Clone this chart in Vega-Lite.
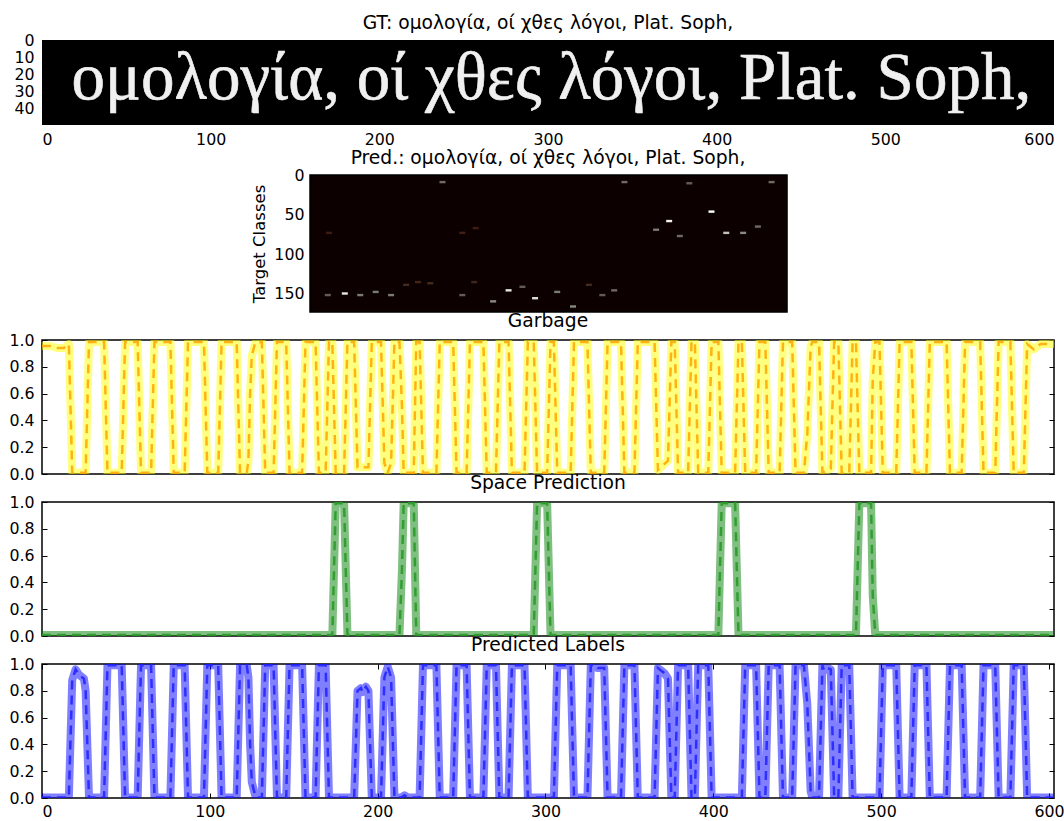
{
"$schema": "https://vega.github.io/schema/vega-lite/v6.json",
"padding": {"left": 8, "top": 14, "right": 8, "bottom": 0},
"bounds": "flush",
"spacing": 28,
"config": {
 "font": "DejaVu Sans",
 "view": {"stroke": "black", "strokeWidth": 1.5},
 "axis": {"labelFont": "DejaVu Sans", "labelFontSize": 15.8, "labelColor": "black", "domain": false, "grid": false, "tickColor": "black", "tickSize": -5, "tickWidth": 1, "labelPadding": 13, "labelOverlap": false, "titleFont": "DejaVu Sans", "titleFontWeight": "normal", "titleFontSize": 16.5, "titleColor": "black"},
 "title": {"font": "DejaVu Sans", "fontSize": 18.7, "fontWeight": "normal", "color": "black", "offset": 1, "frame": "group"}
},
"datasets": {
 "img": [{"t": 302, "r": 34, "s": "ομολογία, οί χθες λόγοι, Plat. Soph,"}],
 "imgext": [{"t0": 0, "t1": 600, "r0": -0.5, "r1": 49.5}],
 "ext": [{"t0": -0.5, "t1": 602.5, "c0": -0.5, "c1": 173.5}],
 "spots": [
  {"t":22,"c":152,"v":0.35},{"t":43.5,"c":150,"v":0.9},{"t":63,"c":152,"v":0.45},{"t":82.5,"c":148,"v":0.45},{"t":102,"c":152,"v":0.45},
  {"t":121,"c":139,"v":0.15},{"t":136,"c":135.5,"v":0.12},{"t":151.5,"c":137,"v":0.15},{"t":167,"c":8.5,"v":0.4},
  {"t":192,"c":152,"v":0.35},{"t":207,"c":135.5,"v":0.12},{"t":231,"c":160,"v":0.5},{"t":250.5,"c":146,"v":0.9},
  {"t":268,"c":141.5,"v":0.35},{"t":284,"c":156,"v":0.85},{"t":312,"c":148,"v":0.45},{"t":332,"c":166.5,"v":0.5},
  {"t":352,"c":139,"v":0.15},{"t":369,"c":152,"v":0.35},{"t":384,"c":146,"v":0.4},{"t":397,"c":8.5,"v":0.4},
  {"t":437,"c":69,"v":0.45},{"t":453.5,"c":58,"v":0.95},{"t":467,"c":77,"v":0.4},{"t":479,"c":10,"v":0.35},
  {"t":507,"c":46,"v":1.0},{"t":525.7,"c":73,"v":0.75},{"t":547,"c":73,"v":0.5},{"t":565.7,"c":65,"v":0.4},{"t":583,"c":8.5,"v":0.4},
  {"t":23.5,"c":73,"v":0.08},{"t":192,"c":73,"v":0.1},{"t":209,"c":67,"v":0.08}
 ],
 "labels": [
  {"t":0,"v":0.003},{"t":16,"v":0.003},{"t":18,"v":0.88},{"t":20,"v":0.96},{"t":22,"v":0.92},{"t":25,"v":0.89},{"t":26,"v":0.8},{"t":28,"v":0.003},
  {"t":37,"v":0.003},{"t":39,"v":0.99},{"t":47.5,"v":0.99},{"t":49.5,"v":0.003},
  {"t":57,"v":0.003},{"t":59,"v":0.99},{"t":65,"v":0.99},{"t":67,"v":0.003},
  {"t":76.5,"v":0.003},{"t":78.5,"v":0.99},{"t":85,"v":0.99},{"t":87,"v":0.003},
  {"t":96.5,"v":0.003},{"t":98.5,"v":0.99},{"t":105,"v":0.99},{"t":107,"v":0.003},
  {"t":116,"v":0.003},{"t":118,"v":0.99},{"t":122,"v":0.99},{"t":123,"v":0.9},{"t":124,"v":0.4},{"t":125,"v":0.12},{"t":127,"v":0.02},{"t":128,"v":0.003},
  {"t":131,"v":0.003},{"t":133,"v":0.99},{"t":138,"v":0.99},{"t":140,"v":0.003},
  {"t":145.5,"v":0.003},{"t":147.5,"v":0.99},{"t":155,"v":0.99},{"t":157,"v":0.003},
  {"t":163,"v":0.003},{"t":165,"v":0.99},{"t":169,"v":0.99},{"t":171,"v":0.003},
  {"t":186,"v":0.003},{"t":188,"v":0.8},{"t":190,"v":0.82},{"t":191,"v":0.79},{"t":193,"v":0.83},{"t":194.5,"v":0.8},{"t":196.5,"v":0.003},
  {"t":202,"v":0.003},{"t":204,"v":0.9},{"t":206,"v":0.98},{"t":208,"v":0.9},{"t":210,"v":0.003},
  {"t":214,"v":0.003},{"t":216,"v":0.02},{"t":218,"v":0.003},
  {"t":225,"v":0.003},{"t":227,"v":0.99},{"t":235,"v":0.99},{"t":237,"v":0.003},
  {"t":245,"v":0.003},{"t":247,"v":0.99},{"t":253,"v":0.99},{"t":255,"v":0.003},
  {"t":263,"v":0.003},{"t":265,"v":0.99},{"t":270.5,"v":0.99},{"t":272.5,"v":0.003},
  {"t":278,"v":0.003},{"t":280,"v":0.99},{"t":287.5,"v":0.99},{"t":289.5,"v":0.003},
  {"t":305,"v":0.003},{"t":307,"v":0.99},{"t":315,"v":0.99},{"t":317,"v":0.003},
  {"t":325,"v":0.003},{"t":327,"v":0.99},{"t":330,"v":0.99},{"t":331,"v":0.97},{"t":335,"v":0.97},{"t":337,"v":0.003},
  {"t":345,"v":0.003},{"t":347,"v":0.99},{"t":353,"v":0.99},{"t":355,"v":0.003},
  {"t":365,"v":0.003},{"t":367,"v":0.97},{"t":369,"v":0.95},{"t":371,"v":0.93},{"t":373,"v":0.89},{"t":375,"v":0.003},
  {"t":377,"v":0.003},{"t":379,"v":0.99},{"t":385,"v":0.99},{"t":387,"v":0.003},
  {"t":389,"v":0.003},{"t":391,"v":0.99},{"t":397,"v":0.99},{"t":399,"v":0.003},
  {"t":417,"v":0.003},{"t":419,"v":0.99},{"t":425.5,"v":0.99},{"t":427.5,"v":0.003},
  {"t":431,"v":0.003},{"t":433,"v":0.99},{"t":439.5,"v":0.99},{"t":441.5,"v":0.003},
  {"t":447,"v":0.003},{"t":449,"v":0.99},{"t":454,"v":0.99},{"t":456,"v":0.7},{"t":458,"v":0.05},{"t":459,"v":0.003},
  {"t":463,"v":0.003},{"t":465,"v":0.99},{"t":466,"v":0.95},{"t":468,"v":0.97},{"t":470,"v":0.96},{"t":472,"v":0.003},
  {"t":474.5,"v":0.003},{"t":476.5,"v":0.99},{"t":481,"v":0.99},{"t":483,"v":0.003},
  {"t":499,"v":0.003},{"t":501,"v":0.99},{"t":509,"v":0.99},{"t":511,"v":0.003},
  {"t":518,"v":0.003},{"t":520,"v":0.99},{"t":527,"v":0.99},{"t":529,"v":0.003},
  {"t":539,"v":0.003},{"t":541,"v":0.99},{"t":548,"v":0.99},{"t":550,"v":0.003},
  {"t":559,"v":0.003},{"t":561,"v":0.99},{"t":568,"v":0.99},{"t":570,"v":0.003},
  {"t":577,"v":0.003},{"t":579,"v":0.99},{"t":585,"v":0.99},{"t":587,"v":0.003},
  {"t":603,"v":0.003}
 ],
 "space": [
  {"t":0,"v":0.008},{"t":173,"v":0.008},{"t":175,"v":0.99},{"t":180,"v":0.99},{"t":182,"v":0.008},
  {"t":213,"v":0.008},{"t":214.5,"v":0.5},{"t":215.5,"v":0.99},{"t":221.5,"v":0.99},{"t":223,"v":0.008},
  {"t":293,"v":0.008},{"t":295,"v":0.99},{"t":301,"v":0.99},{"t":303,"v":0.008},
  {"t":403,"v":0.008},{"t":405,"v":0.99},{"t":413,"v":0.99},{"t":415,"v":0.008},
  {"t":485,"v":0.008},{"t":487,"v":0.99},{"t":494,"v":0.99},{"t":495,"v":0.3},{"t":496.5,"v":0.008},
  {"t":603,"v":0.008}
 ],
 "garbage": [
  {"t":0,"v":0.955},{"t":5,"v":0.955},{"t":9,"v":0.94},{"t":13,"v":0.94},{"t":15.5,"v":0.965},
  {"t":16,"v":0.97},{"t":18,"v":0.01},{"t":26,"v":0.01},{"t":28,"v":0.985},
  {"t":37,"v":0.985},{"t":39,"v":0.01},{"t":47.5,"v":0.01},{"t":49.5,"v":0.985},
  {"t":57,"v":0.985},{"t":59,"v":0.01},{"t":65,"v":0.01},{"t":67,"v":0.985},
  {"t":76.5,"v":0.985},{"t":78.5,"v":0.01},{"t":85,"v":0.01},{"t":87,"v":0.985},
  {"t":96.5,"v":0.985},{"t":98.5,"v":0.01},{"t":105,"v":0.01},{"t":107,"v":0.985},
  {"t":116,"v":0.985},{"t":118,"v":0.01},{"t":122,"v":0.01},{"t":123,"v":0.1},{"t":124,"v":0.6},{"t":125,"v":0.88},{"t":127,"v":0.98},
  {"t":131,"v":0.985},{"t":133,"v":0.01},{"t":138,"v":0.01},{"t":140,"v":0.985},
  {"t":145.5,"v":0.985},{"t":147.5,"v":0.01},{"t":155,"v":0.01},{"t":157,"v":0.985},
  {"t":163,"v":0.985},{"t":165,"v":0.01},{"t":169,"v":0.01},{"t":171,"v":0.985},
  {"t":173,"v":0.985},{"t":175,"v":0.01},{"t":180,"v":0.01},{"t":182,"v":0.985},
  {"t":186,"v":0.985},{"t":188,"v":0.05},{"t":194.5,"v":0.05},{"t":196.5,"v":0.985},
  {"t":202,"v":0.985},{"t":204,"v":0.08},{"t":206,"v":0.01},{"t":208,"v":0.08},{"t":210,"v":0.985},
  {"t":213,"v":0.985},{"t":214.5,"v":0.5},{"t":215.5,"v":0.01},{"t":221.5,"v":0.01},{"t":223,"v":0.985},
  {"t":225,"v":0.985},{"t":227,"v":0.01},{"t":235,"v":0.01},{"t":237,"v":0.985},
  {"t":245,"v":0.985},{"t":247,"v":0.01},{"t":253,"v":0.01},{"t":255,"v":0.985},
  {"t":263,"v":0.985},{"t":265,"v":0.01},{"t":270.5,"v":0.01},{"t":272.5,"v":0.985},
  {"t":278,"v":0.985},{"t":280,"v":0.01},{"t":287.5,"v":0.01},{"t":289.5,"v":0.985},
  {"t":293,"v":0.985},{"t":295,"v":0.01},{"t":301,"v":0.01},{"t":303,"v":0.985},
  {"t":305,"v":0.985},{"t":307,"v":0.01},{"t":315,"v":0.01},{"t":317,"v":0.985},
  {"t":325,"v":0.985},{"t":327,"v":0.01},{"t":335,"v":0.01},{"t":337,"v":0.985},
  {"t":345,"v":0.985},{"t":347,"v":0.01},{"t":353,"v":0.01},{"t":355,"v":0.985},
  {"t":365,"v":0.985},{"t":367,"v":0.03},{"t":373,"v":0.1},{"t":375,"v":0.985},
  {"t":377,"v":0.985},{"t":379,"v":0.01},{"t":385,"v":0.01},{"t":387,"v":0.985},
  {"t":389,"v":0.985},{"t":391,"v":0.01},{"t":397,"v":0.01},{"t":399,"v":0.985},
  {"t":403,"v":0.985},{"t":405,"v":0.01},{"t":413,"v":0.01},{"t":415,"v":0.985},
  {"t":417,"v":0.985},{"t":419,"v":0.01},{"t":425.5,"v":0.01},{"t":427.5,"v":0.985},
  {"t":431,"v":0.985},{"t":433,"v":0.01},{"t":439.5,"v":0.01},{"t":441.5,"v":0.985},
  {"t":447,"v":0.985},{"t":449,"v":0.01},{"t":454,"v":0.01},{"t":456,"v":0.3},{"t":458,"v":0.95},{"t":459,"v":0.985},
  {"t":463,"v":0.985},{"t":465,"v":0.01},{"t":470,"v":0.04},{"t":472,"v":0.985},
  {"t":474.5,"v":0.985},{"t":476.5,"v":0.01},{"t":481,"v":0.01},{"t":483,"v":0.985},
  {"t":485,"v":0.985},{"t":487,"v":0.01},{"t":494,"v":0.01},{"t":495,"v":0.7},{"t":496.5,"v":0.985},
  {"t":499,"v":0.985},{"t":501,"v":0.01},{"t":509,"v":0.01},{"t":511,"v":0.985},
  {"t":518,"v":0.985},{"t":520,"v":0.01},{"t":527,"v":0.01},{"t":529,"v":0.985},
  {"t":539,"v":0.985},{"t":541,"v":0.01},{"t":548,"v":0.01},{"t":550,"v":0.985},
  {"t":559,"v":0.985},{"t":561,"v":0.01},{"t":568,"v":0.01},{"t":570,"v":0.985},
  {"t":577,"v":0.985},{"t":579,"v":0.01},{"t":585,"v":0.01},{"t":587,"v":0.97},
  {"t":589,"v":0.95},{"t":591,"v":0.93},{"t":593,"v":0.95},{"t":595,"v":0.97},{"t":603,"v":0.97}
 ]
},
"vconcat": [
 {
  "title": {"text": "GT: ομολογία, οί χθες λόγοι, Plat. Soph,", "offset": 0},
  "width": 1012, "height": 107,
  "view": {"stroke": null},
  "layer": [
   {"data": {"name": "imgext"},
    "mark": {"type": "rect", "fill": "black"},
    "encoding": {
     "x": {"field": "t0", "type": "quantitative", "scale": {"domain": [0, 600], "nice": false, "zero": false}, "axis": {"values": [0,100,200,300,400,500,600], "title": null, "ticks": false, "labelPadding": 7, "offset": -22, "labelOverlap": false}},
     "x2": {"field": "t1"},
     "y": {"field": "r0", "type": "quantitative", "scale": {"domain": [-0.5, 62.44], "reverse": true, "nice": false, "zero": false}, "axis": {"values": [0,10,20,30,40], "title": null, "ticks": false, "labelPadding": 8, "labelOverlap": false}},
     "y2": {"field": "r1"}
    }},
   {"data": {"name": "img"},
    "mark": {"type": "text", "font": "Liberation Serif", "fontSize": 67, "color": "#f0f0f0", "stroke": "#f0f0f0", "strokeWidth": 0.6, "baseline": "alphabetic", "align": "center"},
    "encoding": {
     "x": {"field": "t", "type": "quantitative", "axis": {"values": [0,100,200,300,400,500,600], "title": null, "ticks": false, "labelPadding": 7, "offset": -22, "labelOverlap": false}},
     "y": {"field": "r", "type": "quantitative", "axis": {"values": [0,10,20,30,40], "title": null, "ticks": false, "labelPadding": 8, "labelOverlap": false}},
     "text": {"field": "s"}
    }}
  ]
 },
 {
  "title": {"text": "Pred.: ομολογία, οί χθες λόγοι, Plat. Soph,", "offset": 0},
  "width": 1012, "height": 137,
  "view": {"stroke": null},
  "layer": [
   {"data": {"name": "ext"},
    "mark": {"type": "rect", "fill": "#0c0000", "stroke": "black", "strokeWidth": 1.5},
    "encoding": {
     "x": {"field": "t0", "type": "quantitative", "scale": {"domain": [-339.3, 940], "nice": false, "zero": false}, "axis": null},
     "x2": {"field": "t1"},
     "y": {"field": "c0", "type": "quantitative", "scale": {"domain": [-0.5, 173.5], "reverse": true, "nice": false, "zero": false}, "axis": {"values": [0,50,100,150], "offset": -268, "title": "Target Classes", "ticks": false, "labelPadding": 6, "titlePadding": 6}},
     "y2": {"field": "c1"}
    }},
   {"data": {"name": "spots"},
    "mark": {"type": "point", "shape": "M-1,-0.4H1V0.4H-1Z", "filled": true, "size": 36, "opacity": 1},
    "encoding": {
     "x": {"field": "t", "type": "quantitative", "axis": null},
     "y": {"field": "c", "type": "quantitative", "axis": {"values": [0,50,100,150], "offset": -268, "title": "Target Classes", "ticks": false, "labelPadding": 6, "titlePadding": 6}},
     "color": {"field": "v", "type": "quantitative", "scale": {"domain": [0, 0.25, 0.5, 1], "range": ["#3a0505", "#4a4036", "#8a8a80", "#ffffff"]}, "legend": null}
    }}
  ]
 },
 {
  "title": {"text": "Garbage"},
  "width": 1012, "height": 134,
  "data": {"name": "garbage"},
  "layer": [
   {"mark": {"type": "line", "color": "#ffff00", "opacity": 0.5, "strokeWidth": 8, "strokeJoin": "round", "clip": true},
    "encoding": {
     "x": {"field": "t", "type": "quantitative", "scale": {"domain": [0, 603], "nice": false, "zero": false}, "axis": null},
     "y": {"field": "v", "type": "quantitative", "scale": {"domain": [0, 1], "nice": false}, "axis": {"values": [0,0.2,0.4,0.6,0.8,1], "format": ".1f", "title": null}}
    }},
   {"mark": {"type": "line", "color": "#ffa500", "opacity": 0.85, "strokeWidth": 2.5, "strokeDash": [9, 6], "clip": true},
    "encoding": {
     "x": {"field": "t", "type": "quantitative", "axis": null},
     "y": {"field": "v", "type": "quantitative", "axis": {"orient": "right", "values": [0,0.2,0.4,0.6,0.8,1], "labels": false, "title": null}}
    }}
  ],
  "resolve": {"axis": {"y": "independent"}}
 },
 {
  "title": {"text": "Space Prediction"},
  "width": 1012, "height": 134,
  "data": {"name": "space"},
  "layer": [
   {"mark": {"type": "line", "color": "#008000", "opacity": 0.5, "strokeWidth": 8, "strokeJoin": "round", "clip": true},
    "encoding": {
     "x": {"field": "t", "type": "quantitative", "scale": {"domain": [0, 603], "nice": false, "zero": false}, "axis": null},
     "y": {"field": "v", "type": "quantitative", "scale": {"domain": [0, 1], "nice": false}, "axis": {"values": [0,0.2,0.4,0.6,0.8,1], "format": ".1f", "title": null}}
    }},
   {"mark": {"type": "line", "color": "#2a9a2a", "opacity": 0.9, "strokeWidth": 2.5, "strokeDash": [9, 6], "clip": true},
    "encoding": {
     "x": {"field": "t", "type": "quantitative", "axis": null},
     "y": {"field": "v", "type": "quantitative", "axis": {"orient": "right", "values": [0,0.2,0.4,0.6,0.8,1], "labels": false, "title": null}}
    }}
  ],
  "resolve": {"axis": {"y": "independent"}}
 },
 {
  "title": {"text": "Predicted Labels"},
  "width": 1012, "height": 134,
  "data": {"name": "labels"},
  "layer": [
   {"mark": {"type": "line", "color": "#0000ff", "opacity": 0.5, "strokeWidth": 8, "strokeJoin": "round", "clip": true},
    "encoding": {
     "x": {"field": "t", "type": "quantitative", "scale": {"domain": [0, 603], "nice": false, "zero": false}, "axis": {"values": [0,100,200,300,400,500,600], "title": null, "labelPadding": 11}},
     "y": {"field": "v", "type": "quantitative", "scale": {"domain": [0, 1], "nice": false}, "axis": {"values": [0,0.2,0.4,0.6,0.8,1], "format": ".1f", "title": null}}
    }},
   {"mark": {"type": "line", "color": "#2020ff", "opacity": 0.85, "strokeWidth": 2.5, "strokeDash": [9, 6], "clip": true},
    "encoding": {
     "x": {"field": "t", "type": "quantitative", "axis": {"orient": "top", "values": [0,100,200,300,400,500,600], "labels": false, "title": null}},
     "y": {"field": "v", "type": "quantitative", "axis": {"orient": "right", "values": [0,0.2,0.4,0.6,0.8,1], "labels": false, "title": null}}
    }}
  ],
  "resolve": {"axis": {"y": "independent", "x": "independent"}}
 }
]
}
